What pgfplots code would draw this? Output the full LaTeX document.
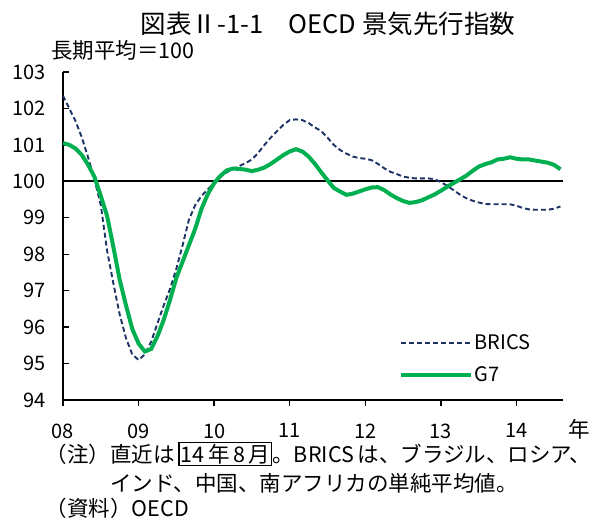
\documentclass[border=0pt]{standalone}
\usepackage{fontspec}
\setmainfont{Noto Sans CJK JP}
\usepackage{pgfplots}
\usepackage{pgfplotstable}
\pgfplotsset{compat=1.18}
\definecolor{brics}{RGB}{28,50,100}
\definecolor{gseven}{RGB}{0,176,80}

\pgfplotstableread{
m brics g7
0 102.35 101.05
1 102.00 101.00
2 101.65 100.90
3 101.20 100.72
4 100.65 100.45
5 100.05 100.12
6 99.35 99.60
7 98.10 99.05
8 97.20 98.20
9 96.35 97.30
10 95.70 96.60
11 95.25 95.95
12 95.10 95.55
13 95.25 95.33
14 95.60 95.40
15 96.10 95.75
16 96.60 96.20
17 97.05 96.75
18 97.60 97.35
19 98.25 97.80
20 98.95 98.25
21 99.35 98.70
22 99.60 99.25
23 99.78 99.65
24 99.95 99.95
25 100.12 100.15
26 100.25 100.30
27 100.33 100.35
28 100.42 100.34
29 100.50 100.32
30 100.60 100.28
31 100.78 100.32
32 101.00 100.38
33 101.20 100.48
34 101.38 100.60
35 101.55 100.72
36 101.68 100.82
37 101.70 100.88
38 101.68 100.82
39 101.60 100.68
40 101.48 100.48
41 101.38 100.25
42 101.20 100.03
43 101.00 99.82
44 100.86 99.72
45 100.76 99.63
46 100.68 99.66
47 100.64 99.72
48 100.62 99.78
49 100.58 99.83
50 100.48 99.84
51 100.36 99.76
52 100.26 99.64
53 100.20 99.54
54 100.13 99.46
55 100.10 99.41
56 100.08 99.43
57 100.08 99.48
58 100.08 99.56
59 100.06 99.64
60 99.98 99.74
61 99.88 99.85
62 99.76 99.95
63 99.64 100.05
64 99.54 100.15
65 99.47 100.28
66 99.42 100.40
67 99.38 100.47
68 99.37 100.52
69 99.37 100.60
70 99.37 100.62
71 99.37 100.66
72 99.33 100.62
73 99.27 100.60
74 99.23 100.60
75 99.22 100.57
76 99.22 100.54
77 99.22 100.51
78 99.25 100.45
79 99.31 100.33
}\datatable

\begin{document}
\begin{tikzpicture}[x=1pt,y=1pt]
\useasboundingbox (-63,-121) rectangle (527,400);
\begin{axis}[
  at={(0,0)}, anchor=south west,
  scale only axis, width=500pt, height=328pt,
  xmin=0, xmax=79.4, ymin=94, ymax=103,
  axis x line*=bottom, axis y line*=left,
  axis line style={line width=2pt, black},
  xtick={0,12,24,36,48,60,72},
  xticklabels={08,09,10,11,12,13,14},
  ytick={94,95,...,103},
  tick align=inside,
  major tick length=6pt,
  tick style={line width=1.4pt, black},
  x tick style={yshift=-6pt},
  /pgf/number format/assume math mode=true,
  ticklabel style={font=\fontsize{20}{22}\selectfont},
  yticklabel style={xshift=-14pt},
  xticklabel style={yshift=-20pt},
  legend style={draw=none, fill=none, font=\fontsize{20}{22}\selectfont,
    at={(rel axis cs:0.665,0.212)}, anchor=north west, row sep=12pt},
  legend cell align=left,
  legend image code/.code={\draw[#1] (0pt,0pt) -- (70pt,0pt);},
]
\addplot[black, line width=1.8pt, forget plot] coordinates {(0,100) (79.4,100)};
\addplot[brics, line width=1.9pt, dash pattern=on 5pt off 3pt] table[x=m, y=brics] {\datatable};
\addlegendentry{BRICS}
\addplot[gseven, line width=4pt] table[x=m, y=g7] {\datatable};
\addlegendentry{G7}
\end{axis}
\node[font=\fontsize{25.5}{27}\selectfont] at (265,376) {図表Ⅱ-1-1　OECD 景気先行指数};
\node[anchor=west, font=\fontsize{21.5}{23}\selectfont, inner sep=0pt] at (-12,350) {長期平均＝100};
\node[font=\fontsize{21.5}{23}\selectfont] at (516,-29) {年};
\setlength{\fboxsep}{1pt}\setlength{\fboxrule}{1.3pt}
\node[anchor=west, font=\fontsize{21.5}{23}\selectfont, inner sep=0pt] at (-17.5,-54) {（注）直近は\,\fbox{14\,年\,8\,月}。BRICS\,は、ブラジル、ロシア、};
\node[anchor=west, font=\fontsize{21.5}{23}\selectfont, inner sep=0pt] at (47,-83) {インド、中国、南アフリカの単純平均値。};
\node[anchor=west, font=\fontsize{21.5}{23}\selectfont, inner sep=0pt] at (-17.5,-108) {（資料）OECD};
\end{tikzpicture}
\end{document}
